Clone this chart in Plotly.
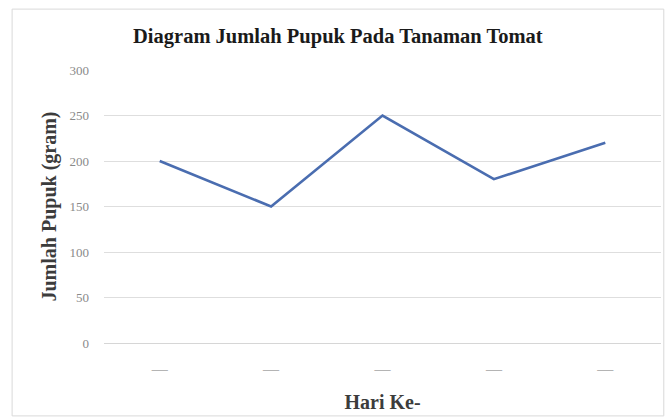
import plotly.graph_objects as go

# Pupuk yang diberikan per hari (gram)
hari = ["1", "2", "3", "4", "5"]
label_hari = ["\u2014", "\u2014", "\u2014", "\u2014", "\u2014"]
jumlah_pupuk = [200, 150, 250, 180, 220]
y_ticks = [0, 50, 100, 150, 200, 250, 300]

fig = go.Figure()
fig.add_trace(go.Scatter(
    x=hari, y=jumlah_pupuk, mode="lines",
    line=dict(color="#4a6db0", width=2.6),
    showlegend=False,
))

serif = "Liberation Serif, Times New Roman, serif"

fig.update_layout(
    width=669, height=419,
    margin=dict(l=104, r=8, t=70, b=76),
    paper_bgcolor="white", plot_bgcolor="white",
    title=dict(
        text="<b>Diagram Jumlah Pupuk Pada Tanaman Tomat</b>",
        xref="container", x=0.505, xanchor="center",
        yref="container", y=0.914, yanchor="middle",
        font=dict(family=serif, size=20.5, color="#1a1a1a"),
    ),
    xaxis=dict(
        type="category", range=[-0.5, 4.5],
        tickmode="array", tickvals=hari, ticktext=label_hari,
        tickfont=dict(family=serif, size=16, color="#b4b4b4"),
        showgrid=False, zeroline=False, showline=False, ticks="",
        ticklabelstandoff=14,
        title=dict(text="<b>Hari Ke-</b>", font=dict(family=serif, size=20, color="#3c3c3c"), standoff=18),
    ),
    yaxis=dict(
        range=[0, 300], tickvals=y_ticks,
        tickfont=dict(family=serif, size=13, color="#8a8a8a"),
        showgrid=True, gridcolor="#dedede", gridwidth=1,
        zeroline=True, zerolinecolor="#d6d6d6", zerolinewidth=1,
        showline=False, ticks="", ticklabelstandoff=14,
        title=dict(text="<b>Jumlah Pupuk (gram)</b>", font=dict(family=serif, size=20, color="#3c3c3c"), standoff=7),
    ),
    shapes=[dict(
        type="rect", xref="paper", yref="paper",
        x0=-0.165, x1=1.005, y0=-0.267, y1=1.223,
        line=dict(color="#d9d9d9", width=1), fillcolor="rgba(0,0,0,0)",
        layer="below",
    )],
)

fig.write_html("out.html")
